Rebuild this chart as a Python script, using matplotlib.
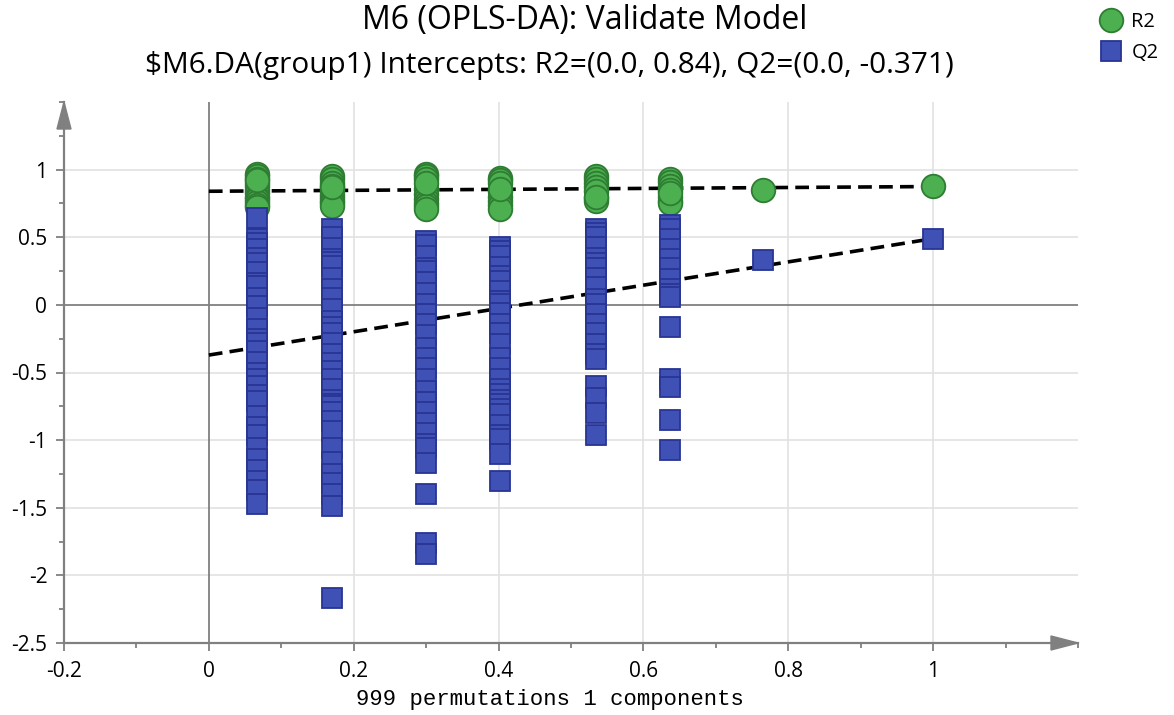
import matplotlib
matplotlib.use("Agg")
import matplotlib.pyplot as plt
from matplotlib.lines import Line2D
from matplotlib.patches import Polygon
from matplotlib.ticker import MultipleLocator, FixedLocator

# ---------------- data ----------------
col_x = [0.0658, 0.170, 0.300, 0.402, 0.534, 0.636, 0.7655, 1.0]

r2_cols = [
    [0.97, 0.95, 0.93, 0.90, 0.88, 0.85, 0.83, 0.80, 0.78, 0.76, 0.74, 0.72, 0.92],
    [0.95, 0.93, 0.90, 0.88, 0.84, 0.81, 0.79, 0.77, 0.75, 0.73, 0.87],
    [0.97, 0.95, 0.93, 0.86, 0.82, 0.78, 0.75, 0.73, 0.71, 0.90],
    [0.94, 0.92, 0.90, 0.84, 0.80, 0.77, 0.74, 0.71, 0.86],
    [0.95, 0.93, 0.90, 0.87, 0.84, 0.79, 0.77, 0.80],
    [0.93, 0.91, 0.88, 0.85, 0.80, 0.77, 0.75, 0.83],
    [0.85],
    [0.88],
]

q2_cols = [
    [0.64, 0.49, 0.46, 0.41, 0.35, 0.31, 0.24, 0.16, 0.14, 0.05, -0.01, -0.10,
     -0.18, -0.25, -0.28, -0.34, -0.42, -0.50, -0.55, -0.60, -0.67, -0.71, -0.82,
     -0.90, -0.96, -1.06, -1.14, -1.22, -1.30, -1.37, -1.47],
    [0.56, 0.50, 0.42, 0.34, 0.32, 0.29, 0.20, 0.12, 0.05, -0.03, -0.12, -0.16, -0.21,
     -0.28, -0.36, -0.43, -0.49, -0.55, -0.62, -0.70, -0.73, -0.75, -0.79, -0.86,
     -0.93, -1.06, -1.16, -1.25, -1.32, -1.40, -1.49, -2.17],
    [0.47, 0.44, 0.36, 0.27, 0.25, 0.17, 0.09, 0.01, -0.07, -0.14, -0.22, -0.32,
     -0.39, -0.47, -0.55, -0.64, -0.72, -0.79, -0.87, -0.95, -1.03, -1.06, -1.17,
     -1.40, -1.76, -1.84],
    [0.43, 0.40, 0.36, 0.28, 0.21, 0.18, 0.10, 0.03, 0.01, -0.06, -0.14, -0.21,
     -0.29, -0.39, -0.47, -0.55, -0.62, -0.66, -0.70, -0.73, -0.77, -0.81, -0.89,
     -0.96, -0.99, -1.10, -1.30],
    [0.56, 0.53, 0.50, 0.43, 0.35, 0.31, 0.27, 0.20, 0.13, 0.04, 0.01, -0.07,
     -0.14, -0.21, -0.29, -0.36, -0.40, -0.60, -0.69, -0.80, -0.96],
    [0.59, 0.56, 0.49, 0.41, 0.34, 0.27, 0.19, 0.12, 0.08, 0.06, -0.16, -0.55,
     -0.61, -0.85, -1.07],
    [0.33],
    [0.49],
]

r2_intercept = (0.0, 0.84)
r2_end = (1.0, 0.875)
q2_intercept = (0.0, -0.371)
q2_end = (1.0, 0.49)

x_major = [-0.2, 0, 0.2, 0.4, 0.6, 0.8, 1]
y_major = [-2.5, -2, -1.5, -1, -0.5, 0, 0.5, 1]
x_labels = ["-0.2", "0", "0.2", "0.4", "0.6", "0.8", "1"]
y_labels = ["-2.5", "-2", "-1.5", "-1", "-0.5", "0", "0.5", "1"]

title1 = "M6 (OPLS-DA): Validate Model"
title2 = "$M6.DA(group1) Intercepts: R2=(0.0, 0.84), Q2=(0.0, -0.371)"
xlabel = "999 permutations 1 components"

# ---------------- style ----------------
plt.rcParams['font.family'] = ['Open Sans', 'DejaVu Sans']
green_face, green_edge = '#4caf50', '#2e7d32'
blue_face, blue_edge = '#3f51b5', '#283593'
axis_grey = '#808080'
grid_grey = '#e2e2e2'

W_px, H_px = 1174, 715
fig = plt.figure(figsize=(W_px / 100, H_px / 100), dpi=100)
left, right, top, bottom = 64, 1078, 102, 643
ax = fig.add_axes([left / W_px, 1 - bottom / H_px, (right - left) / W_px, (bottom - top) / H_px])
axw, axh = right - left, bottom - top

ax.set_xlim(-0.2, 1.2)
ax.set_ylim(-2.5, 1.5)

# grid
for gx in [0.2, 0.4, 0.6, 0.8, 1.0]:
    ax.axvline(gx, color=grid_grey, lw=1.2, zorder=0)
for gy in [-2, -1.5, -1, -0.5, 0.5, 1]:
    ax.axhline(gy, color=grid_grey, lw=1.2, zorder=0)
ax.axvline(0, color=axis_grey, lw=1.3, zorder=0.5)
ax.axhline(0, color=axis_grey, lw=1.3, zorder=0.5)

# regression lines
ax.plot([r2_intercept[0], r2_end[0]], [r2_intercept[1], r2_end[1]], color='black',
        lw=2.6, dashes=(3.8, 2), zorder=2)
ax.plot([q2_intercept[0], q2_end[0]], [q2_intercept[1], q2_end[1]], color='black',
        lw=2.6, dashes=(3.8, 2), zorder=2)

# markers
for cx, vals in zip(col_x, r2_cols):
    ax.plot([cx] * len(vals), vals, linestyle='none', marker='o', ms=17,
            mfc=green_face, mec=green_edge, mew=1.3, zorder=3, clip_on=False)
for cx, vals in zip(col_x, q2_cols):
    for v in vals:
        ax.plot([cx], [v], linestyle='none', marker='s', ms=15, mfc=blue_face,
                mec=blue_edge, mew=1.3, zorder=4, clip_on=False)

# axes, ticks
for s in ['top', 'right']:
    ax.spines[s].set_visible(False)
for s in ['left', 'bottom']:
    ax.spines[s].set_color(axis_grey)
    ax.spines[s].set_linewidth(1.6)

ax.xaxis.set_major_locator(FixedLocator(x_major))
ax.yaxis.set_major_locator(FixedLocator(y_major))
ax.set_xticklabels(x_labels)
ax.set_yticklabels(y_labels)
ax.xaxis.set_minor_locator(MultipleLocator(0.1))
ax.yaxis.set_minor_locator(MultipleLocator(0.25))
ax.tick_params(which='major', length=6, width=1.3, color=axis_grey, labelsize=15,
               labelcolor='black')
ax.tick_params(axis='y', which='major', pad=6)
ax.tick_params(axis='x', which='major', pad=7)
ax.tick_params(which='minor', length=3.5, width=1.3, color=axis_grey)

# arrows
aw, al = 7, 27
ax.add_patch(Polygon([(1.0, 0.0), (1 - al / axw, aw / axh), (1 - al / axw, -aw / axh)],
                     closed=True, transform=ax.transAxes, color=axis_grey, clip_on=False, zorder=5))
ax.add_patch(Polygon([(0.0, 1.0), (-aw / axw, 1 - al / axh), (aw / axw, 1 - al / axh)],
                     closed=True, transform=ax.transAxes, color=axis_grey, clip_on=False, zorder=5))

fig.text(550 / W_px, 1 - 700 / H_px, xlabel, ha='center', va='center',
         family=['Liberation Mono', 'DejaVu Sans Mono'], fontsize=16)

fig.text(585 / W_px, 1 - 20 / H_px, title1, ha='center', va='center', fontsize=23)
fig.text(549 / W_px, 1 - 65 / H_px, title2, ha='center', va='center', fontsize=21.4)

handles = [
    Line2D([], [], linestyle='none', marker='o', ms=17, mfc=green_face, mec=green_edge, mew=1.3),
    Line2D([], [], linestyle='none', marker='s', ms=15, mfc=blue_face, mec=blue_edge, mew=1.3),
]
fig.legend(handles, ['R2', 'Q2'], loc='upper left', bbox_to_anchor=(1081 / W_px, 1 + 2 / H_px),
           frameon=False, fontsize=14.5, handletextpad=0.2, handlelength=1.6,
           labelspacing=0.55, borderpad=0.2)

fig.savefig('out.png', dpi=100)
